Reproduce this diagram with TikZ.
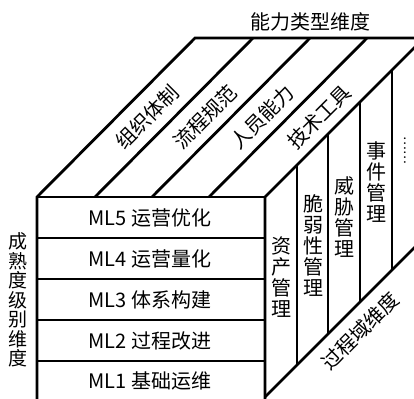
\documentclass[tikz,border=0pt]{standalone}
\usepackage{fontspec}
\newfontfamily\cjk{Noto Sans CJK SC}
\begin{document}
\begin{tikzpicture}[x=1pt,y=-1pt,line width=2.8pt,
  lbl/.style={font=\cjk\fontsize{20}{21}\selectfont, inner sep=0pt, align=center},
  edge/.style={line width=2.8pt, line join=miter, line cap=butt}]
\useasboundingbox (0,0) rectangle (414,398);
\begin{scope}
\clip (0,0) rectangle (414,398);
% outer contour of top face and left edge
\draw[edge] (37,405) -- (37,197) -- (195,38) -- (440,38);
% front face top and right
\draw[edge] (37,197) -- (265,197);
\draw[edge] (265,405) -- (265,197) -- (424,38);
% top face dividers
\foreach \x in {95,152,209} \draw[edge] (\x,197) -- ++(158,-159);
% front face rows
\foreach \y in {238,279,320,361} \draw[edge] (37,\y) -- (265,\y);
% right face verticals
\foreach \x in {297,328,360,392} {
  \pgfmathsetmacro{\yt}{197-(\x-265)}
  \pgfmathsetmacro{\yb}{397-(\x-265)}
  \draw[edge] (\x,\yt) -- (\x,\yb);
}
\draw[edge] (424,39) -- (424,240);
% right face bottom
\draw[edge] (265,397) -- (430,232);
\end{scope}
% labels
\node[lbl] (cap) at (310,22) {能力类型维度};
\node[lbl] (ml5) at (150,218) {ML5 运营优化};
\node[lbl] (ml4) at (150,259) {ML4 运营量化};
\node[lbl] (ml3) at (150,300) {ML3 体系构建};
\node[lbl] (ml2) at (150,341) {ML2 过程改进};
\node[lbl] (ml1) at (150,381) {ML1 基础运维};
\node[lbl, font=\cjk\fontsize{19}{19.5}\selectfont] (lv) at (18,300) {成\\熟\\度\\级\\别\\维\\度};
\node[lbl, rotate=45] (t1) at (147,117) {组织体制};
\node[lbl, rotate=45] (t2) at (205,117) {流程规范};
\node[lbl, rotate=45] (t3) at (262,117) {人员能力};
\node[lbl, rotate=45] (t4) at (319,117) {技术工具};
\node[lbl] (r1) at (281,277) {资\\产\\管\\理};
\node[lbl] (r2) at (313,245) {脆\\弱\\性\\管\\理};
\node[lbl] (r3) at (344,217) {威\\胁\\管\\理};
\node[lbl] (r4) at (376,182) {事\\件\\管\\理};
\node[lbl, font=\cjk\fontsize{13}{14}\selectfont, rotate=-90] (r5) at (405,150) {……};
\node[lbl, rotate=45] (pd) at (360,331) {过程域维度};
\end{tikzpicture}
\end{document}
